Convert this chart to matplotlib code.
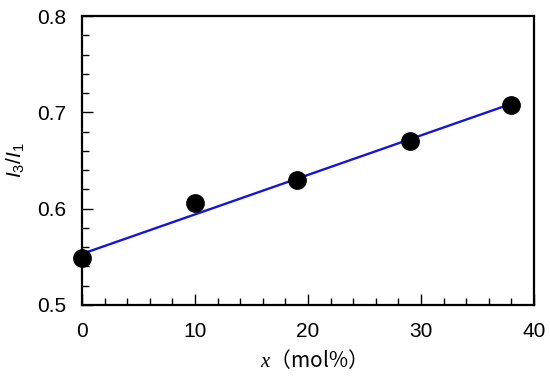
import numpy as np
import matplotlib
matplotlib.use('Agg')
import matplotlib.pyplot as plt
from matplotlib.ticker import MultipleLocator

# Data
x_mol = [0, 10, 19, 29, 38]
ratio = [0.549, 0.606, 0.630, 0.670, 0.708]
# linear fit line end points
fit_x = [0, 38]
fit_y = [0.553, 0.709]

plt.rcParams['font.family'] = ['Liberation Sans', 'Noto Sans CJK SC']
plt.rcParams['mathtext.fontset'] = 'custom'
plt.rcParams['mathtext.rm'] = 'Liberation Sans'
plt.rcParams['mathtext.it'] = 'Liberation Serif:italic'
plt.rcParams['mathtext.sf'] = 'Liberation Sans:italic'

fig = plt.figure(figsize=(5.5, 3.76), dpi=100)
ax = fig.add_axes([0.149, 0.189, 0.822, 0.768])

ax.plot(fit_x, fit_y, color='#1515d8', lw=1.7, zorder=2)
ax.plot(x_mol, ratio, 'o', color='black', ms=12.5, zorder=3, clip_on=False)

ax.set_xlim(0, 40)
ax.set_ylim(0.5, 0.8)
ax.xaxis.set_major_locator(MultipleLocator(10))
ax.xaxis.set_minor_locator(MultipleLocator(2))
ax.yaxis.set_major_locator(MultipleLocator(0.1))
ax.yaxis.set_minor_locator(MultipleLocator(0.02))
ax.tick_params(which='both', direction='in', top=False, right=False,
               labelsize=15, width=1.0)
ax.tick_params(axis='x', which='major', length=8, pad=12)
ax.tick_params(axis='y', which='major', length=8, pad=11)
ax.tick_params(which='minor', length=5)
for s in ax.spines.values():
    s.set_linewidth(1.6)

ax.set_xlabel(r'$x$（mol%）', fontsize=15, labelpad=5,
              fontfamily='Noto Sans CJK SC')
ax.set_ylabel(r'$\mathsf{I}_{3}/\mathsf{I}_{1}$', fontsize=15, labelpad=8)

fig.savefig('out.png', dpi=100)
